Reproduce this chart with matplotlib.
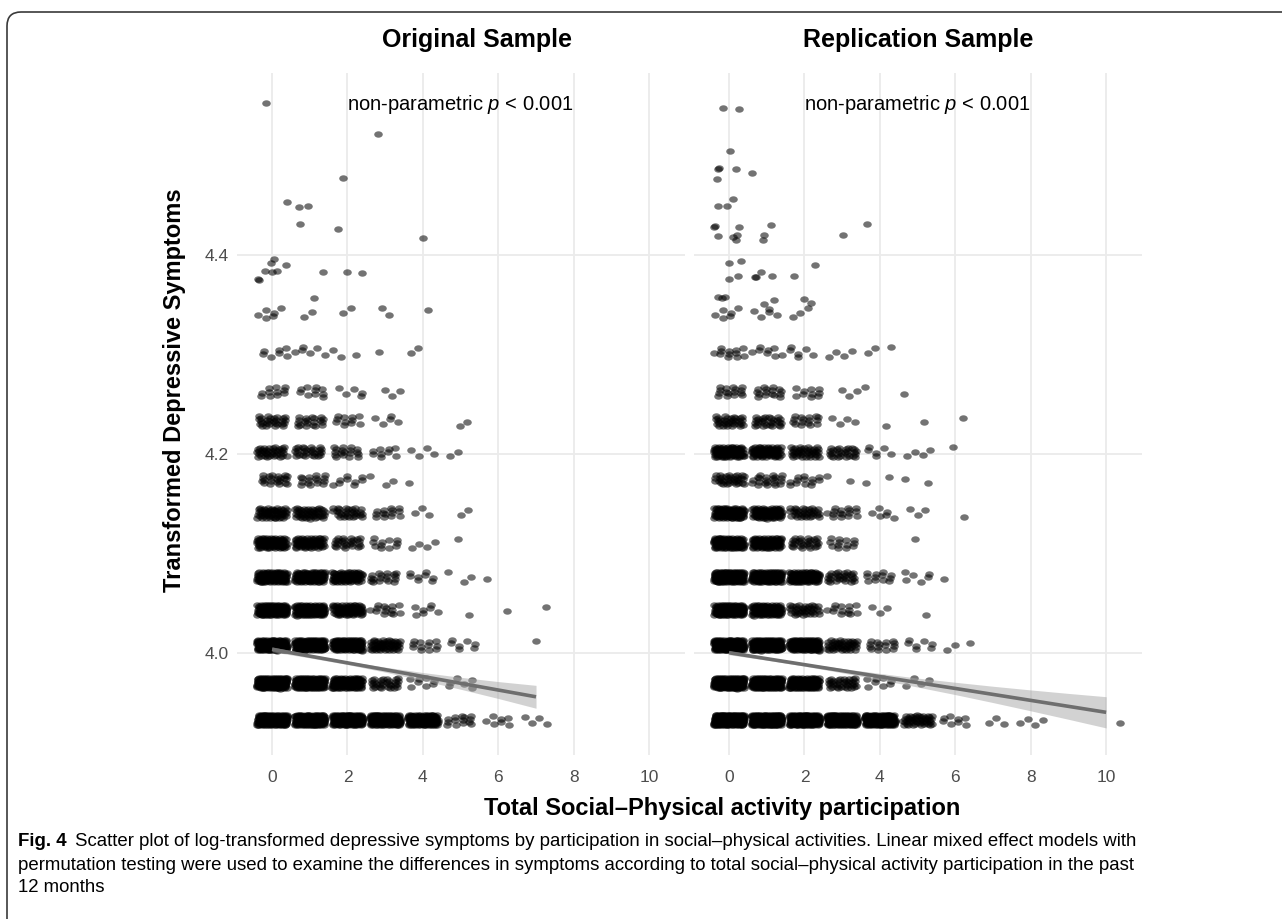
import numpy as np
import matplotlib
matplotlib.use("Agg")
import matplotlib.pyplot as plt
from matplotlib.path import Path
from matplotlib.patches import FancyBboxPatch
from matplotlib.transforms import IdentityTransform
from matplotlib import font_manager

# ---------------- data ----------------
panel_titles = ["Original Sample", "Replication Sample"]
x_label = "Total Social\u2013Physical activity participation"
y_label = "Transformed Depressive Symptoms"
annot = r"non-parametric $p$ < 0.001"
x_ticks = [0, 2, 4, 6, 8, 10]
y_ticks = [4.0, 4.2, 4.4]
y_tick_labels = ["4.0", "4.2", "4.4"]

# observed y levels (log-transformed scores)
levels = [3.9327, 3.9698, 4.0080, 4.0432, 4.0764, 4.1106, 4.1407,
          4.1739, 4.2020, 4.2332, 4.2623, 4.3025, 4.3417]

# number of participants per level (rows) and activity count 0..10 (cols)
orig_counts = [
    [180, 170, 170, 160, 140, 14, 7, 4, 0, 0, 0],
    [160, 150, 120, 30, 8, 6, 0, 0, 0, 0, 0],
    [160, 150, 130, 55, 12, 7, 0, 1, 0, 0, 0],
    [130, 120, 75, 14, 7, 1, 1, 1, 0, 0, 0],
    [110, 100, 75, 18, 8, 3, 1, 0, 0, 0, 0],
    [85, 65, 26, 11, 4, 1, 0, 0, 0, 0, 0],
    [55, 48, 30, 14, 3, 2, 0, 0, 0, 0, 0],
    [22, 16, 9, 3, 1, 0, 0, 0, 0, 0, 0],
    [38, 28, 18, 9, 4, 2, 0, 0, 0, 0, 0],
    [28, 20, 11, 5, 0, 2, 0, 0, 0, 0, 0],
    [11, 10, 5, 3, 0, 0, 0, 0, 0, 0, 0],
    [7, 6, 3, 1, 2, 0, 0, 0, 0, 0, 0],
    [6, 2, 2, 2, 1, 0, 0, 0, 0, 0, 0],
]
rep_counts = [
    [220, 200, 190, 180, 170, 45, 8, 3, 4, 0, 1],
    [170, 160, 130, 35, 8, 4, 0, 0, 0, 0, 0],
    [170, 160, 140, 45, 15, 7, 3, 0, 0, 0, 0],
    [130, 105, 36, 13, 3, 1, 0, 0, 0, 0, 0],
    [150, 125, 100, 28, 12, 6, 1, 0, 0, 0, 0],
    [115, 90, 28, 13, 0, 1, 0, 0, 0, 0, 0],
    [100, 80, 34, 16, 6, 3, 1, 0, 0, 0, 0],
    [34, 22, 13, 2, 2, 2, 0, 0, 0, 0, 0],
    [90, 70, 40, 28, 6, 4, 1, 0, 0, 0, 0],
    [34, 28, 16, 4, 1, 1, 1, 0, 0, 0, 0],
    [16, 16, 10, 3, 1, 1, 0, 0, 0, 0, 0],
    [12, 8, 6, 4, 3, 0, 0, 0, 0, 0, 0],
    [6, 5, 3, 0, 0, 0, 0, 0, 0, 0, 0],
]

# sparse high scores (jittered values as read)
orig_extra_x = [-0.16, 2.8, 1.88, 0.4, 0.72, 0.95, 0.74, 1.74, 4.0, 0.05, -0.03,
                0.37, -0.18, 0.0, 0.13, -0.37, -0.35, 1.35, 2.0, 2.38, 1.11]
orig_extra_y = [4.5528, 4.5216, 4.4777, 4.4536, 4.448, 4.449, 4.431, 4.426, 4.417,
                4.396, 4.392, 4.390, 4.384, 4.383, 4.384, 4.376, 4.375, 4.383,
                4.383, 4.382, 4.357]
rep_extra_x = [-0.17, 0.27, 0.03, -0.28, -0.26, 0.18, 0.61, -0.32, 0.1, -0.3, -0.06,
               -0.4, -0.38, 0.26, 1.1, -0.3, 0.11, 0.22, 0.18, 0.92, 0.9, 3.03, 3.65,
               0.0, 0.31, 2.27, 0.0, 0.23, 0.69, 0.71, 0.86, 1.15, 1.71,
               -0.3, -0.2, -0.1, 0.93, 1.19, 2.0, 2.18]
rep_extra_y = [4.5477, 4.5464, 4.5048, 4.487, 4.488, 4.487, 4.482, 4.476, 4.456,
               4.4496, 4.4496, 4.428, 4.429, 4.4284, 4.430, 4.4187, 4.418, 4.420,
               4.415, 4.42, 4.415, 4.42, 4.431, 4.3916, 4.394, 4.390, 4.3759,
               4.379, 4.3776, 4.378, 4.383, 4.379, 4.379,
               4.358, 4.357, 4.358, 4.351, 4.355, 4.356, 4.352]

# linear fits with 95% CI
orig_fit_x = [0, 1, 2, 3, 4, 5, 6, 7]
orig_fit_y = [4.0037, 3.9969, 3.9901, 3.9833, 3.9764, 3.9696, 3.9628, 3.9560]
orig_fit_se = [0.0025, 0.0018, 0.0017, 0.0025, 0.0040, 0.0060, 0.0085, 0.0115]
rep_fit_x = [0, 1, 2, 3, 4, 5, 6, 7, 8, 9, 10]
rep_fit_y = [4.0003, 3.9943, 3.9883, 3.9823, 3.9763, 3.9703, 3.9644, 3.9584,
             3.9524, 3.9464, 3.9404]
rep_fit_se = [0.0020, 0.0015, 0.0015, 0.0022, 0.0032, 0.0045, 0.0062, 0.0082,
              0.0105, 0.0130, 0.0157]

caption_bold = "Fig. 4"
caption_lines = [
    "Scatter plot of log-transformed depressive symptoms by participation in social\u2013physical activities. Linear mixed effect models with",
    "permutation testing were used to examine the differences in symptoms according to total social\u2013physical activity participation in the past",
    "12 months",
]

# ---------------- style ----------------
names = {f.name for f in font_manager.fontManager.ttflist}
FONT = "Liberation Sans" if "Liberation Sans" in names else "DejaVu Sans"
CAPFONT = "Liberation Sans Narrow" if "Liberation Sans Narrow" in names else FONT
plt.rcParams["font.family"] = [FONT, "DejaVu Sans"]
plt.rcParams["mathtext.fontset"] = "custom"
plt.rcParams["mathtext.rm"] = FONT
plt.rcParams["mathtext.it"] = FONT + ":italic"

W, H = 1282, 919
fig = plt.figure(figsize=(W / 100, H / 100), dpi=100)

# ellipse-shaped marker (points look slightly wider than tall)
circ = Path.unit_circle()
ell = Path(circ.vertices * np.array([1.0, 0.75]), circ.codes)

GRID = "#ebebeb"
TICK = "#4d4d4d"

JW = 0.4     # jitter half-width in x
JH = 0.0055  # jitter half-height in y


def cell_points(counts, lv):
    xs, ys = [], []
    for li, row in enumerate(counts):
        for xi, n in enumerate(row):
            s = li * 7 + xi * 13 + 1
            for i in range(n):
                u = (s * 0.618034 + i * 0.7548776662) % 1.0
                v = (s * 0.414214 + i * 0.5698402910) % 1.0
                xs.append(xi + (u - 0.5) * 2 * JW)
                ys.append(lv[li] + (v - 0.5) * 2 * JH)
    return np.array(xs), np.array(ys)


panels = [
    (orig_counts, orig_extra_x, orig_extra_y, orig_fit_x, orig_fit_y, orig_fit_se),
    (rep_counts, rep_extra_x, rep_extra_y, rep_fit_x, rep_fit_y, rep_fit_se),
]
lefts = [236.6, 693.6]
pw, top, bot = 448.0, 73.0, 755.0

for k, (cnt, ex, ey, fx, fy, fse) in enumerate(panels):
    ax = fig.add_axes([lefts[k] / W, 1 - bot / H, pw / W, (bot - top) / H])
    ax.set_xlim(-0.94, 10.94)
    ax.set_ylim(3.8975, 4.583)
    for s in ax.spines.values():
        s.set_visible(False)
    ax.set_xticks(x_ticks)
    ax.set_yticks(y_ticks)
    ax.grid(True, color=GRID, lw=1.3)
    ax.set_axisbelow(True)
    ax.tick_params(length=0, labelsize=12.5, labelcolor=TICK, pad=11)
    ax.tick_params(axis="y", pad=6)
    if k == 0:
        ax.set_yticklabels(y_tick_labels)
    else:
        ax.set_yticklabels([])
    xs, ys = cell_points(cnt, levels)
    xs = np.concatenate([xs, ex])
    ys = np.concatenate([ys, ey])
    ax.scatter(xs, ys, s=38, marker=ell, color="black", alpha=0.55,
               linewidths=0, zorder=2)
    fx = np.array(fx); fy = np.array(fy); fse = np.array(fse)
    ax.fill_between(fx, fy - fse, fy + fse, color="#a6a6a6", alpha=0.5,
                    linewidth=0, zorder=3)
    ax.plot(fx, fy, color="#6e6e6e", lw=2.6, zorder=4, solid_capstyle="butt")
    ax.text(5, 4.551, annot, ha="center", va="center", fontsize=14.5,
            color="black")

# panel titles
fig.text(477 / W, 1 - 40 / H, panel_titles[0], ha="center", va="center",
         fontsize=18, fontweight="bold")
fig.text(918 / W, 1 - 40 / H, panel_titles[1], ha="center", va="center",
         fontsize=18, fontweight="bold")
# axis titles
fig.text(722 / W, 1 - 808 / H, x_label, ha="center", va="center",
         fontsize=17, fontweight="bold")
fig.text(175 / W, 1 - 390 / H, y_label, ha="center", va="center",
         fontsize=17, fontweight="bold", rotation=90)

# caption
renderer = fig.canvas.get_renderer()
probe = fig.text(0, 0, caption_lines[1], fontsize=12, family=[CAPFONT, "DejaVu Sans"])
wpx = probe.get_window_extent(renderer).width
probe.remove()
cfs = 12 * (1120.0 / wpx)
tb = fig.text(18 / W, 1 - 842 / H, caption_bold, fontsize=cfs, fontweight="bold",
              family=[CAPFONT, "DejaVu Sans"], va="center", ha="left")
bw = tb.get_window_extent(renderer).width
fig.text((18 + bw + 8) / W, 1 - 842 / H, caption_lines[0], fontsize=cfs,
         family=[CAPFONT, "DejaVu Sans"], va="center", ha="left")
fig.text(18 / W, 1 - 865 / H, caption_lines[1], fontsize=cfs,
         family=[CAPFONT, "DejaVu Sans"], va="center", ha="left")
fig.text(18 / W, 1 - 888 / H, caption_lines[2], fontsize=cfs,
         family=[CAPFONT, "DejaVu Sans"], va="center", ha="left")

# rounded frame
frame = FancyBboxPatch((7, -40), 1320, (H - 12) + 40,
                       boxstyle="round,pad=0,rounding_size=14",
                       transform=IdentityTransform(), fill=False,
                       edgecolor="#3a3a3a", lw=1.2)
fig.patches.append(frame)

fig.savefig("out.png", dpi=100)
